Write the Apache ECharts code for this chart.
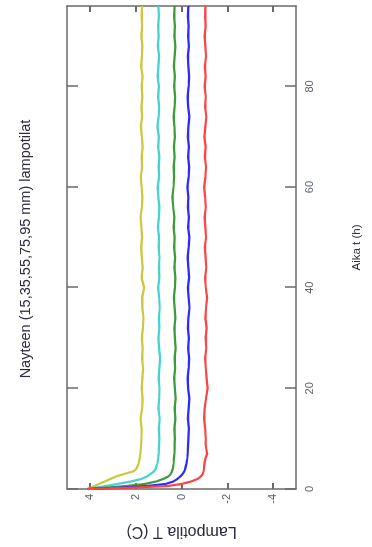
<!DOCTYPE html>
<html>
<head>
<meta charset="utf-8">
<script src="https://cdn.jsdelivr.net/npm/echarts@6/dist/echarts.min.js"></script>
<style>
html, body { margin: 0; padding: 0; background: #fff; }
#wrap { position: relative; width: 372px; height: 547px; overflow: hidden; }
/* the chart is drawn in landscape and turned a quarter counter-clockwise */
#chart { position: absolute; left: 0; top: 0; width: 547px; height: 372px;
         transform-origin: 0 0; transform: translateY(547px) rotate(-90deg); }
</style>
</head>
<body>
<div id="wrap"><div id="chart"></div></div>
<script>
var times = [0, 0.3, 0.6, 1, 1.5, 2, 2.5, 3, 3.5, 4, 5, 6, 7, 8, 9,
    10, 12, 14, 16, 18, 20, 22, 24, 26, 28, 30, 32, 34, 36, 38, 40, 42, 44, 46, 48,
    50, 52, 54, 56, 58, 60, 62, 64, 66, 68, 70, 72, 74, 76, 78, 80, 82, 84, 86, 88,
    90, 92, 94, 96];

var depths = ['15 mm', '35 mm', '55 mm', '75 mm', '95 mm'];
var colors = ['#c9c83e', '#46d2d0', '#3c9c3c', '#2b2bff', '#ff4242'];

var t15 = [4.1, 3.95, 3.8, 3.6, 3.35, 3.1, 2.85, 2.5, 2.1, 1.98, 1.88, 1.83, 1.80, 1.78, 1.76,
    1.75, 1.74, 1.79, 1.72, 1.70, 1.74, 1.71, 1.68, 1.72, 1.70, 1.73, 1.69, 1.66, 1.71, 1.72,
    1.63, 1.74, 1.70, 1.73, 1.76, 1.72, 1.75, 1.79, 1.73, 1.71, 1.74, 1.78, 1.72, 1.74, 1.70,
    1.73, 1.77, 1.72, 1.75, 1.71, 1.74, 1.70, 1.76, 1.73, 1.71, 1.75, 1.72, 1.74, 1.72];
var t35 = [4.1, 3.7, 3.3, 2.8, 2.2, 1.75, 1.5, 1.35, 1.2, 1.13, 1.06, 1.02, 1.0, 0.99, 0.98,
    0.97, 0.99, 0.95, 1.01, 0.98, 0.96, 1.00, 0.97, 0.93, 0.98, 1.01, 0.97, 0.99, 0.95, 0.98,
    1.02, 0.97, 0.99, 0.96, 1.00, 0.98, 1.03, 0.99, 0.97, 1.01, 1.04, 0.98, 1.00, 0.97, 1.02,
    0.99, 1.05, 1.00, 0.98, 1.02, 0.99, 1.04, 1.01, 0.98, 1.03, 1.00, 1.02, 0.99, 1.01];
var t55 = [4.1, 3.2, 2.4, 1.6, 1.1, 0.8, 0.57, 0.47, 0.42, 0.38, 0.35, 0.33, 0.31, 0.30, 0.30,
    0.29, 0.31, 0.27, 0.30, 0.26, 0.29, 0.32, 0.28, 0.30, 0.26, 0.29, 0.31, 0.27, 0.30, 0.33,
    0.29, 0.27, 0.31, 0.28, 0.32, 0.30, 0.34, 0.31, 0.36, 0.40, 0.35, 0.32, 0.34, 0.30, 0.33,
    0.29, 0.31, 0.34, 0.30, 0.28, 0.32, 0.29, 0.33, 0.30, 0.27, 0.31, 0.29, 0.32, 0.30];
var t75 = [4.1, 2.6, 1.5, 0.7, 0.35, 0.18, 0.05, -0.05, -0.12, -0.16, -0.21, -0.25, -0.27, -0.28, -0.29,
    -0.30, -0.32, -0.28, -0.31, -0.34, -0.29, -0.27, -0.31, -0.33, -0.29, -0.32, -0.28, -0.30, -0.35, -0.31,
    -0.28, -0.33, -0.30, -0.27, -0.31, -0.34, -0.29, -0.32, -0.28, -0.30, -0.26, -0.31, -0.33, -0.29, -0.32,
    -0.28, -0.30, -0.34, -0.29, -0.27, -0.31, -0.33, -0.30, -0.28, -0.32, -0.29, -0.31, -0.28, -0.30];
var t95 = [4.1, 2.0, 0.6, 0.0, -0.42, -0.7, -0.85, -0.93, -0.96, -0.98, -1.0, -1.04, -1.12, -1.08, -1.05,
    -1.06, -1.03, -0.99, -1.01, -1.07, -1.14, -1.10, -1.06, -1.03, -1.08, -1.05, -1.10, -1.04, -1.07, -1.12,
    -1.06, -1.03, -1.08, -1.05, -1.02, -1.07, -1.04, -1.01, -1.06, -1.03, -0.99, -1.04, -1.07, -1.02, -1.05,
    -1.00, -1.04, -1.08, -1.03, -1.06, -1.01, -1.05, -1.02, -1.07, -1.04, -1.01, -1.05, -1.03, -1.04];

var timeTicks = [0, 20, 40, 60, 80];
var tempTicks = [-4, -2, 0, 2, 4];

var chart = echarts.init(document.getElementById('chart'));

function pairs(vals) {
    return times.map(function (t, i) { return [t, vals[i]]; });
}

var frame = { show: true, onZero: false, lineStyle: { color: '#6a6a6a', width: 1.5 } };
var labelStyle = { color: '#5a6070', fontSize: 11, fontFamily: 'Liberation Sans' };

var option = {
    backgroundColor: '#fff',
    animation: false,
    title: {
        text: 'Nayteen (15,35,55,75,95 mm) lampotilat',
        left: 293,
        textAlign: 'center',
        top: 13,
        textStyle: { color: '#2c2c40', fontSize: 14.5, fontWeight: 'normal', fontFamily: 'Liberation Sans' }
    },
    grid: { left: 56, right: 6, top: 67, bottom: 76 },
    xAxis: [{
        type: 'value', min: 0, max: 96, position: 'bottom',
        axisLine: frame,
        axisTick: { show: true, inside: true, length: 11, customValues: timeTicks,
                    lineStyle: { color: '#6a6a6a', width: 1.5 } },
        axisLabel: Object.assign({ customValues: timeTicks, margin: 8 }, labelStyle),
        splitLine: { show: false },
        name: 'Aika t (h)', nameLocation: 'middle', nameGap: 55,
        nameTextStyle: { color: '#2c2c40', fontSize: 11.5, fontFamily: 'Liberation Sans' }
    }, {
        type: 'value', min: 0, max: 96, position: 'top',
        axisLine: frame,
        axisTick: { show: true, inside: true, length: 11, customValues: timeTicks,
                    lineStyle: { color: '#6a6a6a', width: 1.5 } },
        axisLabel: { show: false },
        splitLine: { show: false }
    }],
    yAxis: [{
        type: 'value', min: -5, max: 5, position: 'left',
        axisLine: frame,
        axisTick: { show: true, inside: true, length: 6, customValues: tempTicks,
                    lineStyle: { color: '#6a6a6a', width: 2 } },
        axisLabel: Object.assign({ customValues: tempTicks, margin: 5 }, labelStyle),
        splitLine: { show: false },
        name: 'Lampotila T (C)', nameLocation: 'middle', nameRotate: 90, nameGap: 34,
        nameTextStyle: { color: '#2c2c40', fontSize: 16, fontFamily: 'Liberation Sans' }
    }, {
        type: 'value', min: -5, max: 5, position: 'right',
        axisLine: frame,
        axisTick: { show: true, inside: true, length: 6, customValues: tempTicks,
                    lineStyle: { color: '#6a6a6a', width: 2 } },
        axisLabel: { show: false },
        splitLine: { show: false }
    }],
    series: [t15, t35, t55, t75, t95].map(function (vals, i) {
        return {
            name: depths[i],
            type: 'line',
            data: pairs(vals),
            showSymbol: false,
            lineStyle: { color: colors[i], width: 2.2 },
            itemStyle: { color: colors[i] }
        };
    })
};

chart.setOption(option);
</script>
</body>
</html>
